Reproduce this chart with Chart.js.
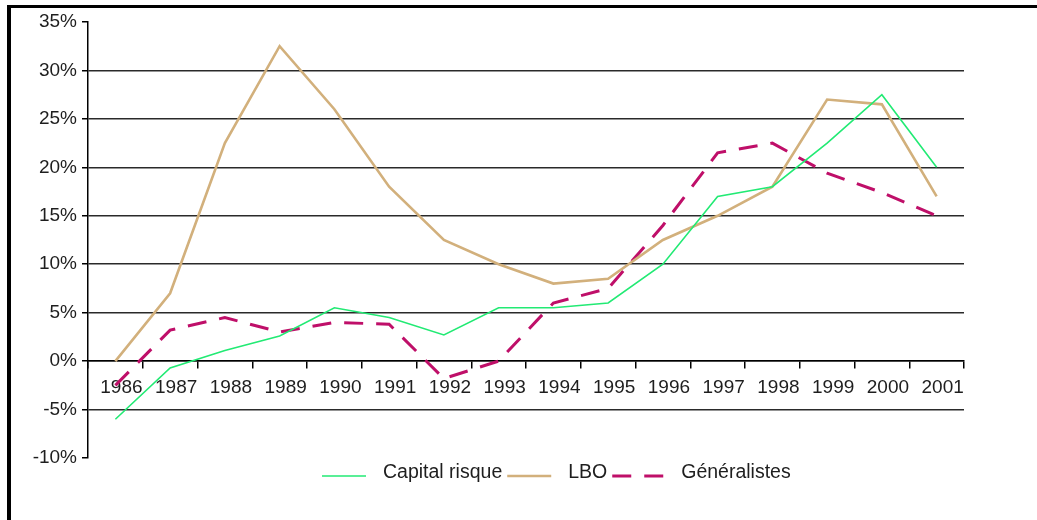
<!DOCTYPE html>
<html>
<head>
<meta charset="utf-8">
<script src="https://cdn.jsdelivr.net/npm/chart.js"></script>
<style>
  html, body { margin: 0; padding: 0; background: #fff; }
  #wrap { position: relative; width: 1037px; height: 520px; overflow: hidden; }
  #frame {
    position: absolute; left: 7px; top: 5px; right: 0; bottom: 0;
    border-left: 4px solid #000; border-top: 3px solid #000;
    pointer-events: none;
  }
  canvas { position: absolute; left: 0; top: 0; }
</style>
</head>
<body>
<div id="wrap">
  <canvas id="chart" width="1037" height="520"></canvas>
  <div id="frame"></div>
</div>
<script>
  // Data (annual returns, %)
  const years = ['1986', '1987', '1988', '1989', '1990', '1991', '1992', '1993',
                 '1994', '1995', '1996', '1997', '1998', '1999', '2000', '2001'];
  const capitalRisque = [-6, -0.7, 1.1, 2.6, 5.5, 4.5, 2.7, 5.5, 5.5, 6, 10, 17, 18, 22.5, 27.5, 20];
  const lbo = [0, 7, 22.5, 32.5, 26, 18, 12.5, 10, 8, 8.5, 12.5, 15, 18, 27, 26.5, 17];
  const generalistes = [-2.5, 3.2, 4.5, 3.0, 4.0, 3.8, -1.8, 0, 6, 7.5, 14, 21.5, 22.5, 19.4, 17.4, 15];
  const yTicks = [-10, -5, 0, 5, 10, 15, 20, 25, 30, 35];

  const FONT = 'Liberation Sans, Arial, sans-serif';
  const TEXT = '#1e1e1e';

  // Legend drawn by hand so the sample/label spacing matches the original
  const lineLegend = {
    id: 'lineLegend',
    afterDraw(chart) {
      const ctx = chart.ctx;
      const y = 476;
      let x = 322;
      ctx.save();
      ctx.font = '19.5px ' + FONT;
      ctx.textBaseline = 'middle';
      chart.data.datasets.forEach(ds => {
        const len = ds.borderDash ? 52 : 44;
        ctx.strokeStyle = ds.borderColor;
        ctx.lineWidth = ds.borderWidth;
        ctx.setLineDash(ds.borderDash || []);
        ctx.beginPath();
        ctx.moveTo(x, y);
        ctx.lineTo(x + len, y);
        ctx.stroke();
        ctx.setLineDash([]);
        x += len + 17;
        ctx.fillStyle = TEXT;
        ctx.fillText(ds.label, x, y - 3);
        x += ctx.measureText(ds.label).width + 5;
      });
      ctx.restore();
    }
  };

  new Chart(document.getElementById('chart'), {
    type: 'line',
    data: {
      labels: years,
      datasets: [
        { label: 'Capital risque', data: capitalRisque, borderColor: '#22ea74', borderWidth: 1.6 },
        { label: 'LBO', data: lbo, borderColor: '#d2b07c', borderWidth: 2.6 },
        { label: 'Généralistes', data: generalistes, borderColor: '#bf0f69', borderWidth: 3, borderDash: [19, 13] }
      ]
    },
    options: {
      responsive: false,
      animation: false,
      devicePixelRatio: 1,
      layout: { padding: { top: 22, right: 73, bottom: 62, left: 0 } },
      elements: { point: { radius: 0 }, line: { tension: 0, fill: false } },
      plugins: { legend: { display: false }, tooltip: { enabled: false } },
      scales: {
        x: {
          type: 'category',
          offset: true,
          position: { y: 0 },
          border: { display: true, color: '#000', width: 1.5 },
          grid: { offset: true, drawOnChartArea: false, drawTicks: true, tickLength: 7, color: '#000', lineWidth: 1.5 },
          ticks: { color: TEXT, font: { family: FONT, size: 19 }, padding: 8, labelOffset: 6, maxRotation: 0, autoSkip: false }
        },
        y: {
          min: -10,
          max: 35,
          afterBuildTicks: (scale) => { scale.ticks = yTicks.map(v => ({ value: v })); },
          afterFit: (scale) => { scale.width = 88; },
          border: { display: true, color: '#000', width: 1.5 },
          grid: {
            color: (c) => (c.tick && (c.tick.value === 35 || c.tick.value === -10)) ? 'rgba(0,0,0,0)' : '#2a2a2a',
            tickColor: '#000',
            lineWidth: 1.5,
            tickLength: 6
          },
          ticks: {
            color: TEXT,
            font: { family: FONT, size: 19 },
            padding: 5,
            callback: (v) => v + '%'
          }
        }
      }
    },
    plugins: [lineLegend]
  });
</script>
</body>
</html>
